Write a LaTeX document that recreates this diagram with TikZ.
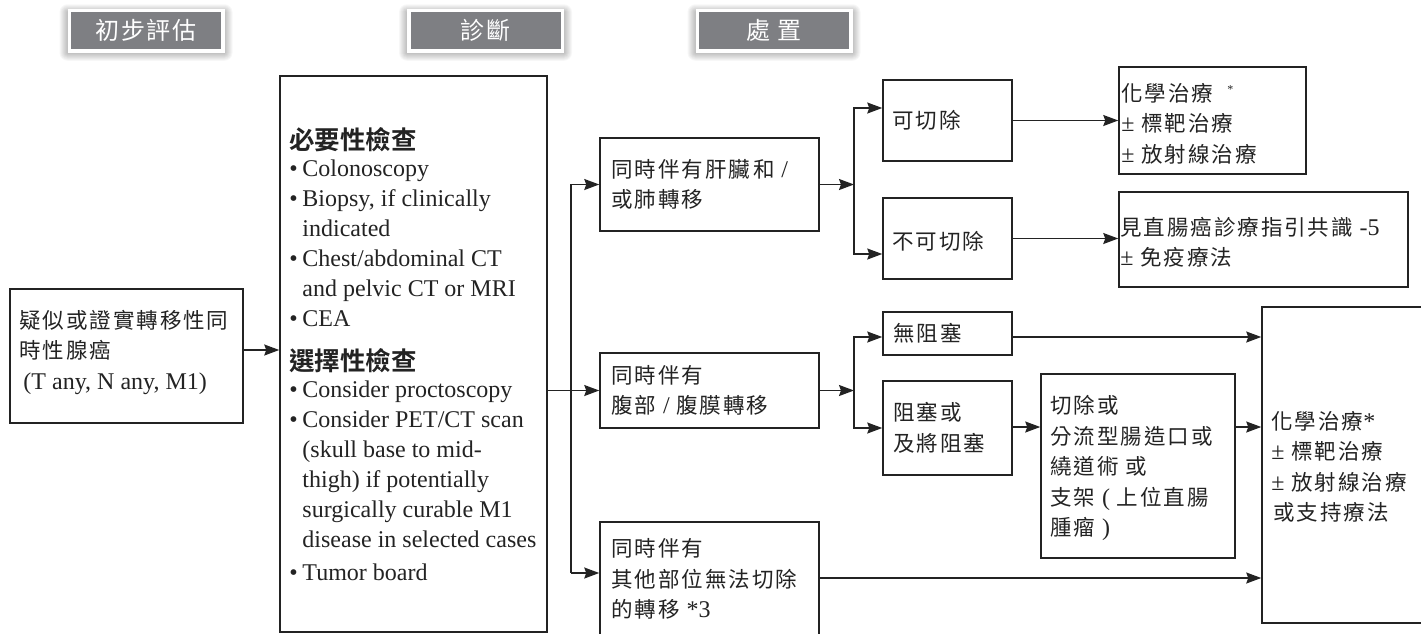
\documentclass[tikz,border=0pt]{standalone}
\usepackage{fontspec}
\setmainfont{Liberation Serif}
\newfontfamily\cjk{Noto Sans CJK TC}[LetterSpace=9]
\newfontfamily\cjkhd{Noto Sans CJK TC}[LetterSpace=8]
\newfontfamily\cjkbold{Noto Sans CJK TC Bold}
\usetikzlibrary{arrows.meta}
\definecolor{ink}{RGB}{35,35,35}
\definecolor{hdrgray}{RGB}{126,127,131}
% Latin runs inside CJK text
\newcommand\latn[1]{{\rmfamily\fontsize{24}{30.5}\selectfont #1}}
\newcommand\itembul{\makebox[13pt][l]{\textbullet}}
\newcommand\itemind{\hspace*{13pt}}
% soft glow behind a section header (centre x, centre y)
\newcommand\hdrglow[2]{%
  \foreach \i in {1,...,8}{%
    \fill[black,opacity=0.03,rounded corners=\i pt]
      (#1-78.5-\i,#2-20.25-\i+2) rectangle (#1+78.5+\i,#2+20.25+\i+2);}}

\begin{document}
\begin{tikzpicture}[x=1pt,y=-1pt,
  box/.style={draw=ink, line width=1.5pt, inner sep=0pt, fill=white},
  txt/.style={anchor=west, align=left, inner sep=0pt, text=ink,
              font=\cjk\fontsize{21.5}{30.5}\selectfont},
  lattxt/.style={anchor=west, align=left, inner sep=0pt, text=ink,
              font=\rmfamily\fontsize{24}{30}\selectfont},
  arr/.style={draw=ink, line width=1.5pt, -{Stealth[length=15pt,width=11pt,inset=2pt]}},
  hdr/.style={fill=hdrgray, draw=white, line width=3.5pt, minimum width=153.5pt,
              minimum height=40.5pt, inner sep=0pt, text=white,
              font=\cjkhd\fontsize{24}{26}\selectfont}
]
\useasboundingbox (0,0) rectangle (1421,633);
\fill[white] (0,0) rectangle (1421,633);
\clip (0,0) rectangle (1421,633);

% section headers
\hdrglow{146}{30.5}
\hdrglow{485.5}{30.5}
\hdrglow{774}{30.5}
\node[hdr] (h1) at (146,30.5) {初步評估};
\node[hdr] (h2) at (485.5,30.5) {診斷};
\node[hdr] (h3) at (774,30.5) {處\ 置};

% boxes
\node[box, minimum width=233pt, minimum height=134pt] (init)   at (126.5,356) {};
\node[box, minimum width=267pt, minimum height=556pt] (diag)   at (413.5,354) {};
\node[box, minimum width=219pt, minimum height=93pt]  (liver)  at (709.5,184.5) {};
\node[box, minimum width=219pt, minimum height=75pt]  (perit)  at (709.5,390.5) {};
\node[box, minimum width=219pt, minimum height=114pt] (other)  at (709.5,579) {};
\node[box, minimum width=129pt, minimum height=81pt]  (resect) at (947.5,120.5) {};
\node[box, minimum width=129pt, minimum height=81pt]  (unres)  at (947.5,238.5) {};
\node[box, minimum width=187pt, minimum height=107pt] (chemoA) at (1212.5,120.5) {};
\node[box, minimum width=289pt, minimum height=95pt]  (guide)  at (1263.5,239.5) {};
\node[box, minimum width=129pt, minimum height=43pt]  (noobs)  at (947.5,333.5) {};
\node[box, minimum width=129pt, minimum height=94pt]  (obs)    at (947.5,428) {};
\node[box, minimum width=194pt, minimum height=184pt] (surg)   at (1138,466) {};
\node[box, minimum width=168pt, minimum height=316pt] (chemoB) at (1346,465) {};

% box texts
\node[txt] (init-t) at ([xshift=10pt,yshift=4pt]init.west)
  {疑似或證實轉移性同\\時性腺癌\\\latn{\hspace*{4pt}(T any, N any, M1)}};
\node[lattxt] (diag-t) at ([xshift=10pt]diag.west) {%
  {\cjkbold\fontsize{25.5}{30}\selectfont 必要性檢查}\\[-3pt]
  \itembul Colonoscopy\\
  \itembul Biopsy, if clinically\\
  \itemind indicated\\
  \itembul Chest/abdominal CT\\
  \itemind and pelvic CT or MRI\\
  \itembul CEA\\[14pt]
  {\cjkbold\fontsize{25.5}{30}\selectfont 選擇性檢查}\\[-3pt]
  \itembul Consider proctoscopy\\
  \itembul Consider PET/CT scan\\
  \itemind (skull base to mid-\\
  \itemind thigh) if potentially\\
  \itemind surgically curable M1\\
  \itemind disease in selected cases\\[3pt]
  \itembul Tumor board};
\node[txt] (liver-t) at ([xshift=12pt]liver.west)
  {同時伴有肝臟\hspace{3pt}和\ \latn{/}\\或肺轉移};
\node[txt] (perit-t) at ([xshift=12pt]perit.west)
  {同時伴有\\腹部\ \latn{/}\ 腹膜轉移};
\node[txt] (other-t) at ([xshift=12pt]other.west)
  {同時伴有\\其他部位無法切除\\的轉移\ \latn{*3}};
\node[txt] (resect-t) at ([xshift=10pt]resect.west) {可切除};
\node[txt] (unres-t) at ([xshift=10pt,yshift=-3pt]unres.west) {不可切除};
\node[txt] (chemoA-t) at ([xshift=3pt,yshift=-3pt]chemoA.west)
  {化學治療\hspace{14pt}\raisebox{8pt}{\latn{\fontsize{12}{12}\selectfont *}}\\
   \latn{±}\ 標靶治療\\\latn{±}\ 放射線治療};
\node[txt] (guide-t) at ([xshift=2pt,yshift=-3pt]guide.west)
  {見直腸癌診療指引共識\ \latn{-5}\\\latn{±}\ 免疫療法};
\node[txt] (noobs-t) at ([xshift=11pt]noobs.west) {無阻塞};
\node[txt] (obs-t) at ([xshift=11pt]obs.west) {阻塞或\\及將阻塞};
\node[txt] (surg-t) at ([xshift=10pt,yshift=-2pt]surg.west)
  {切除或\\分流型腸造口或\\繞道術\ 或\\支架\ \latn{(}\ 上位直腸\\腫瘤\ \latn{)}};
\node[txt] (chemoB-t) at ([xshift=10pt,yshift=-2pt]chemoB.west)
  {化學治療\latn{*}\\\latn{±}\ 標靶治療\\\latn{±}\ 放射線治療\\\hspace*{2pt}或支持療法};

% connectors: initial assessment to diagnosis
\coordinate (a0) at ([yshift=6pt]init.east);
\draw[arr] (a0) -- (a0 -| diag.west);

% diagnosis to the three presentations
\coordinate (trunk) at (571,390.5);
\coordinate (d0) at ([yshift=-36.5pt]diag.east);
\draw[arr] (d0) -- (perit.west);
\coordinate (oin) at ([yshift=6pt]other.west);
\draw[arr] (trunk |- oin) -- (trunk |- liver.west) -- (liver.west);
\draw[arr] (trunk |- oin) -- (oin);

% liver / lung branch
\coordinate (s1) at (854,184.5);
\draw[arr] (liver.east) -- (s1);
\coordinate (rin) at ([yshift=12.5pt]resect.west);
\coordinate (uin) at ([yshift=-15.5pt]unres.west);
\draw[arr] (s1) |- (rin);
\draw[arr] (s1) |- (uin);
\draw[arr] (resect.east) -- (chemoA.west);
\draw[arr] (unres.east) -- (unres.east -| guide.west);

% peritoneal branch
\coordinate (s2) at (854,390.5);
\draw[arr] (perit.east) -- (s2);
\coordinate (nin) at ([yshift=-3.5pt]noobs.west);
\draw[arr] (s2) |- (nin);
\draw[arr] (s2) |- (obs.west);
\coordinate (nout) at ([yshift=-3.5pt]noobs.east);
\draw[arr] (nout) -- (nout -| chemoB.west);
\coordinate (oout) at ([yshift=1pt]obs.east);
\draw[arr] (oout) -- (oout -| surg.west);
\draw[arr] (oout -| surg.east) -- (oout -| chemoB.west);

% other unresectable sites
\coordinate (cout) at ([yshift=1pt]other.east);
\draw[arr] (cout) -- (cout -| chemoB.west);
\end{tikzpicture}
\end{document}
